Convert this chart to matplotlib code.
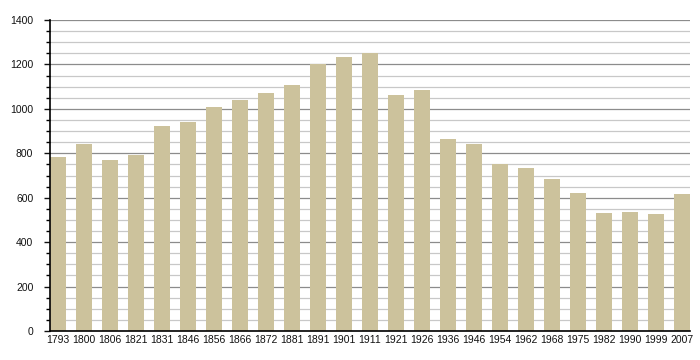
import matplotlib.pyplot as plt
import numpy as np
from matplotlib.ticker import MultipleLocator

BAR = '#CCC29C'
MAJOR_GRID = '#8C8C8C'
MINOR_GRID = '#C8C8C8'

years = ['1793', '1800', '1806', '1821', '1831', '1846', '1856', '1866', '1872',
         '1881', '1891', '1901', '1911', '1921', '1926', '1936', '1946', '1954',
         '1962', '1968', '1975', '1982', '1990', '1999', '2007']
population = [785, 842, 770, 794, 923, 941, 1009, 1040, 1073,
              1108, 1204, 1235, 1253, 1063, 1085, 866, 842, 752,
              734, 684, 621, 531, 536, 527, 617]

plt.rcParams['font.family'] = ['Liberation Sans', 'DejaVu Sans']

fig = plt.figure(figsize=(7, 3.6), dpi=100)
ax = fig.add_axes([0.0714, 0.0806, 0.9143, 0.8638])

x = np.arange(len(years))
w = 0.62
ax.bar(x, population, width=w, color=BAR, zorder=3)

ax.set_xlim(-w / 2, len(years) - 1 + w / 2)
ax.set_ylim(0, 1400)
ax.yaxis.set_major_locator(MultipleLocator(200))
ax.yaxis.set_minor_locator(MultipleLocator(50))
ax.grid(True, which='major', axis='y', color=MAJOR_GRID, linewidth=0.9, zorder=1)
ax.grid(True, which='minor', axis='y', color=MINOR_GRID, linewidth=0.9, zorder=1)

ax.set_xticks(x)
ax.set_xticklabels(years)
ax.tick_params(axis='x', length=0, pad=3, labelsize=7.5, colors='#111111')
ax.tick_params(axis='y', which='major', length=4, width=1, pad=8, labelsize=7.5, colors='#111111')
ax.tick_params(axis='y', which='minor', length=3, width=1)

for side in ['top', 'right']:
    ax.spines[side].set_visible(False)
ax.spines['left'].set_linewidth(1.2)
ax.spines['bottom'].set_linewidth(1.2)
ax.spines['left'].set_zorder(4)
ax.spines['bottom'].set_zorder(4)

fig.savefig('out.png', dpi=100)
